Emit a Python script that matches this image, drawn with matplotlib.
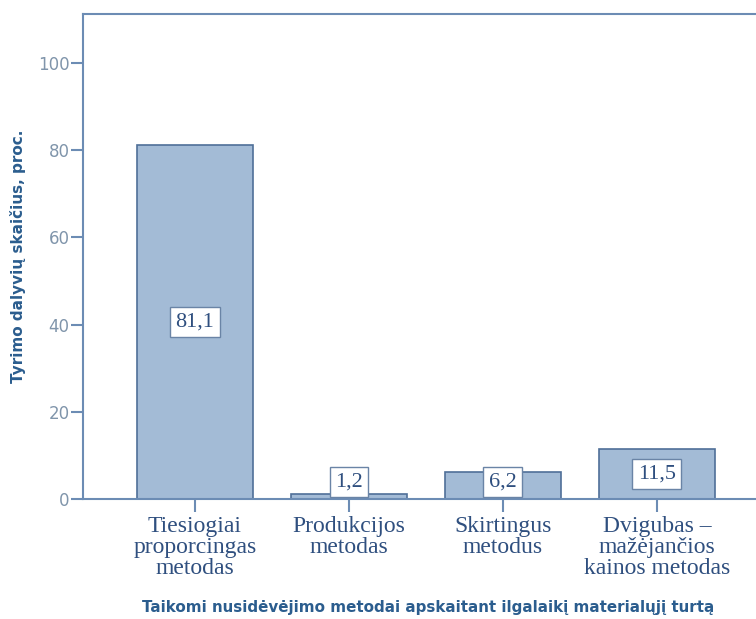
"""
Bar chart: depreciation methods used for tangible fixed assets (share of respondents)
"""

import matplotlib.pyplot as plt

categories = [
    "Tiesiogiai\nproporcingas\nmetodas",
    "Produkcijos\nmetodas",
    "Skirtingus\nmetodus",
    "Dvigubas \u2013\nmažėjančios\nkainos metodas",
]
shares = [81.1, 1.2, 6.2, 11.5]
value_labels = ["81,1", "1,2", "6,2", "11,5"]
yticks = [0, 20, 40, 60, 80, 100]

BAR_FILL = "#a3bbd6"
BAR_EDGE = "#4f6f98"
SPINE = "#6c8cb4"
TICK_TXT = "#8095ab"
CAT_TXT = "#2f4f7f"
AXIS_TXT = "#2b5d8e"


def main():
    fig = plt.figure(figsize=(7.56, 6.19), dpi=100)
    # right edge of the frame runs past the figure border
    ax = fig.add_axes([0.1098, 0.1939, 0.9072, 0.7835])

    x = range(len(shares))
    ax.bar(x, shares, width=0.753, color=BAR_FILL, edgecolor=BAR_EDGE, linewidth=1.2)

    for i, (v, lab) in enumerate(zip(shares, value_labels)):
        ax.text(i, max(v / 2, 3.9), lab, ha="center", va="center",
                family="Liberation Serif", fontsize=16, color=CAT_TXT,
                bbox=dict(boxstyle="square,pad=0.25", facecolor="white",
                          edgecolor="#6a84a6", linewidth=1.0))

    ax.set_xlim(-0.727, 3.727)
    ax.set_ylim(0, 111.2)
    ax.set_yticks(yticks)
    ax.set_xticks(list(x))
    ax.set_xticklabels(categories, family="Liberation Serif", fontsize=17,
                       color=CAT_TXT, linespacing=1.0)

    for side in ["left", "top", "right", "bottom"]:
        ax.spines[side].set_color(SPINE)
        ax.spines[side].set_linewidth(1.5)

    ax.tick_params(axis="y", length=8.6, width=1.5, color=SPINE,
                   labelcolor=TICK_TXT, labelsize=12, pad=1)
    ax.tick_params(axis="x", length=9.4, width=1.5, color=SPINE, pad=3)

    ax.set_ylabel("Tyrimo dalyvių skaičius, proc.", fontsize=11,
                  fontweight="bold", color=AXIS_TXT)
    ax.yaxis.set_label_coords(-57 / 686, 0.5)
    ax.set_xlabel("Taikomi nusidėvėjimo metodai apskaitant ilgalaikį materialųjį turtą",
                  fontsize=10.9, fontweight="bold", color=AXIS_TXT)
    ax.xaxis.set_label_coords((428 - 83) / 686, -0.208)

    fig.savefig("out.png", dpi=100)
    plt.close(fig)


if __name__ == "__main__":
    main()
